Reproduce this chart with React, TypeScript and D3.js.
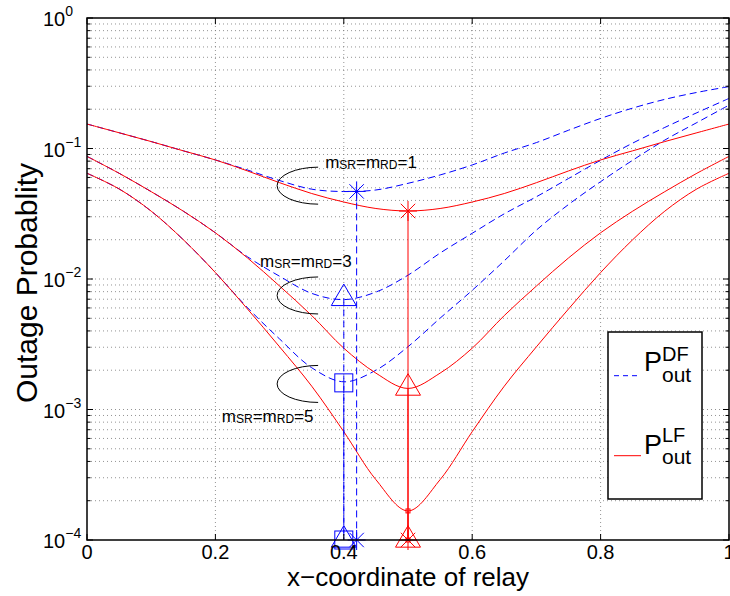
import React from 'react';
import * as d3 from 'd3';

// Relay position along the source–destination line (normalised)
const relayX = [0, 0.05, 0.1, 0.15, 0.2, 0.25, 0.3, 0.35, 0.4, 0.45, 0.5, 0.55, 0.6, 0.65, 0.7, 0.75, 0.8, 0.85, 0.9, 0.95, 1];

// Linear-forwarding outage probability, m_SR = m_RD = 1, 3, 5
const lfM1 = [0.154, 0.132, 0.113, 0.096, 0.0817, 0.0673, 0.0547, 0.0452, 0.0389, 0.0347, 0.0332, 0.0347, 0.0389, 0.0452, 0.0547, 0.0673, 0.0817, 0.096, 0.113, 0.132, 0.154];
const lfM3 = [0.087, 0.0646, 0.0467, 0.0331, 0.0226, 0.0145, 0.00883, 0.00525, 0.00295, 0.0019, 0.00145, 0.0019, 0.00295, 0.00525, 0.00883, 0.0145, 0.0226, 0.0331, 0.0467, 0.0646, 0.087];
const lfM5 = [0.0646, 0.049, 0.0331, 0.02, 0.0112, 0.00589, 0.00302, 0.00151, 0.000676, 0.00029, 0.000167, 0.00029, 0.000676, 0.00151, 0.00302, 0.00589, 0.0112, 0.02, 0.0331, 0.049, 0.0646];

// Decode-and-forward outage probability, m_SR = m_RD = 1, 3, 5
const dfM1 = [0.154, 0.132, 0.113, 0.096, 0.0817, 0.0684, 0.0568, 0.0488, 0.0468, 0.0481, 0.0541, 0.0627, 0.0748, 0.0923, 0.111, 0.138, 0.17, 0.204, 0.238, 0.269, 0.298];
const dfM3 = [0.087, 0.0646, 0.0467, 0.0331, 0.0226, 0.0148, 0.0105, 0.00776, 0.00695, 0.00794, 0.0107, 0.0158, 0.0224, 0.0316, 0.0427, 0.0589, 0.0813, 0.11, 0.145, 0.188, 0.242];
const dfM5 = [0.0646, 0.049, 0.0331, 0.02, 0.0112, 0.00603, 0.00347, 0.00209, 0.00163, 0.002, 0.00303, 0.00501, 0.00819, 0.0138, 0.0237, 0.0372, 0.0557, 0.0813, 0.116, 0.158, 0.215];

// Optimal relay positions and the minimum outage there (m = 1, 3, 5)
const dfOptX = [0.42, 0.4, 0.4];
const dfOptP = [0.0469, 0.0071, 0.0016];
const lfOptX = [0.5, 0.5, 0.5];
const lfOptP = [0.0332, 0.00146, 0.000167];
const optMarkers = ['star', 'triangle', 'square'];
const lfMarkerSize = [20, 25, 4];
const dfMarkerSize = [20, 25, 18];

// Bracket annotations: centre of each bracket and its label
const fadingOrders = ['1', '3', '5'];
const bracketX = [0.36, 0.36, 0.36];
const bracketP = [0.0519, 0.00748, 0.00157];
const labelX = [0.371, 0.2695, 0.21];
const labelP = [0.0705, 0.0124, 0.000807];

const xTicks = [0, 0.2, 0.4, 0.6, 0.8, 1];
const xTickLabels = ['0', '0.2', '0.4', '0.6', '0.8', '1'];
const yDecades = [-4, -3, -2, -1, 0];

const W = 730;
const H = 596;
const M = { left: 87, right: 729, top: 18, bottom: 540 };
const FONT = "'Liberation Sans', Arial, Helvetica, sans-serif";
const BLUE = '#0000ff';
const RED = '#ff0000';
const DASH = '7,4';

function Marker({ kind, cx, cy, size, color }: { kind: string; cx: number; cy: number; size: number; color: string }) {
  if (kind === 'star') {
    const r = size / 2;
    const k = r * 0.72;
    const d = `M${cx - r * 0.9},${cy}L${cx + r * 0.9},${cy}M${cx},${cy - r}L${cx},${cy + r}M${cx - k},${cy - k}L${cx + k},${cy + k}M${cx - k},${cy + k}L${cx + k},${cy - k}`;
    return <path d={d} stroke={color} strokeWidth={1} fill="none" />;
  }
  if (kind === 'triangle') {
    const h = size * 0.86;
    const d = `M${cx},${cy - (2 * h) / 3}L${cx + size / 2},${cy + h / 3}L${cx - size / 2},${cy + h / 3}Z`;
    return <path d={d} stroke={color} strokeWidth={1} fill="none" />;
  }
  return <rect x={cx - size / 2} y={cy - size / 2} width={size} height={size} stroke={color} strokeWidth={1} fill="none" />;
}

export default function App() {
  const x = d3.scaleLinear().domain([0, 1]).range([M.left, M.right]);
  const y = d3.scaleLog().domain([1e-4, 1]).range([M.bottom, M.top]);
  const line = d3
    .line<number>()
    .x((_, i) => x(relayX[i]))
    .y((d) => y(d))
    .curve(d3.curveCatmullRom.alpha(0.5));

  const majors = yDecades.map((e) => Math.pow(10, e));
  const minors: number[] = [];
  yDecades.slice(0, -1).forEach((e) => {
    for (let k = 2; k <= 9; k++) minors.push(k * Math.pow(10, e));
  });
  const yFloor = 1e-4;

  const lfSeries = [lfM1, lfM3, lfM5];
  const dfSeries = [dfM1, dfM3, dfM5];

  return (
    <svg width={W} height={H} style={{ position: 'absolute', left: 0, top: 0, background: '#fff' }} fontFamily={FONT}>
      <rect x={0} y={0} width={W} height={H} fill="#fff" />

      {/* dotted grid */}
      <g stroke="#777" strokeWidth={0.8} strokeDasharray="1,3">
        {xTicks.slice(1, -1).map((t) => (
          <line key={`gx${t}`} x1={x(t)} x2={x(t)} y1={M.top} y2={M.bottom} />
        ))}
        {[...majors.slice(1, -1), ...minors].map((v) => (
          <line key={`gy${v}`} x1={M.left} x2={M.right} y1={y(v)} y2={y(v)} />
        ))}
      </g>

      {/* outage curves */}
      <g fill="none" strokeWidth={1}>
        {dfSeries.map((s, i) => (
          <path key={`df${i}`} d={line(s) || ''} stroke={BLUE} strokeDasharray={DASH} />
        ))}
        {lfSeries.map((s, i) => (
          <path key={`lf${i}`} d={line(s) || ''} stroke={RED} />
        ))}
      </g>

      {/* drop lines from each minimum to the floor */}
      <g fill="none" strokeWidth={1}>
        {dfOptX.map((xv, i) => (
          <line key={`dv${i}`} x1={x(xv)} x2={x(xv)} y1={y(dfOptP[i])} y2={y(yFloor)} stroke={BLUE} strokeDasharray={DASH} />
        ))}
        {lfOptX.map((xv, i) => (
          <line key={`lv${i}`} x1={x(xv)} x2={x(xv)} y1={y(lfOptP[i])} y2={y(yFloor)} stroke={RED} />
        ))}
      </g>

      {/* markers at the minima and on the floor */}
      {dfOptX.map((xv, i) => (
        <g key={`dm${i}`}>
          <Marker kind={optMarkers[i]} cx={x(xv)} cy={y(dfOptP[i])} size={dfMarkerSize[i]} color={BLUE} />
          <Marker kind={optMarkers[i]} cx={x(xv)} cy={y(yFloor)} size={dfMarkerSize[i]} color={BLUE} />
        </g>
      ))}
      {lfOptX.map((xv, i) => (
        <g key={`lm${i}`}>
          <Marker kind={optMarkers[i]} cx={x(xv)} cy={y(lfOptP[i])} size={lfMarkerSize[i]} color={RED} />
          <Marker kind={optMarkers[i]} cx={x(xv)} cy={y(yFloor)} size={lfMarkerSize[i]} color={RED} />
        </g>
      ))}

      {/* brackets and fading-order labels */}
      {fadingOrders.map((m, i) => {
        const cx = x(bracketX[i]);
        const cy = y(bracketP[i]);
        const rx = 41;
        const ry = 18.5;
        return (
          <g key={`ann${i}`}>
            <path d={`M${cx},${cy - ry}A${rx},${ry} 0 0 0 ${cx},${cy + ry}`} fill="none" stroke="#000" strokeWidth={1} />
            <text x={x(labelX[i])} y={y(labelP[i])} fontSize={17} fill="#000">
              m<tspan fontSize={12} dy={1}>SR</tspan>
              <tspan dy={-1}>=m</tspan>
              <tspan fontSize={12} dy={1}>RD</tspan>
              <tspan dy={-1}>={m}</tspan>
            </text>
          </g>
        );
      })}

      {/* axes box with inward ticks */}
      <g stroke="#000" fill="none">
        <rect x={M.left} y={M.top} width={M.right - M.left} height={M.bottom - M.top} strokeWidth={1.5} />
        {xTicks.map((t) => (
          <g key={`xt${t}`} strokeWidth={1}>
            <line x1={x(t)} x2={x(t)} y1={M.bottom} y2={M.bottom - 6} />
            <line x1={x(t)} x2={x(t)} y1={M.top} y2={M.top + 6} />
          </g>
        ))}
        {majors.map((v) => (
          <g key={`yt${v}`} strokeWidth={1}>
            <line x1={M.left} x2={M.left + 6} y1={y(v)} y2={y(v)} />
            <line x1={M.right} x2={M.right - 6} y1={y(v)} y2={y(v)} />
          </g>
        ))}
        {minors.map((v) => (
          <g key={`ym${v}`} strokeWidth={1}>
            <line x1={M.left} x2={M.left + 3.5} y1={y(v)} y2={y(v)} />
            <line x1={M.right} x2={M.right - 3.5} y1={y(v)} y2={y(v)} />
          </g>
        ))}
      </g>

      {/* tick labels */}
      <g fontSize={20} fill="#000">
        {xTicks.map((t, i) => (
          <text key={`xl${t}`} x={x(t)} y={M.bottom + 19} textAnchor="middle">
            {xTickLabels[i]}
          </text>
        ))}
        {yDecades.map((e) => (
          <text key={`yl${e}`} x={43} y={y(Math.pow(10, e)) + 8} textAnchor="start">
            10
            <tspan fontSize={14} dy={-10}>
              {e === 0 ? '0' : `\u2212${-e}`}
            </tspan>
          </text>
        ))}
      </g>

      {/* axis titles */}
      <text x={(M.left + M.right) / 2} y={586} textAnchor="middle" fontSize={26} fill="#000">
        x{'\u2212'}coordinate of relay
      </text>
      <text transform={`translate(37,283) rotate(-90)`} textAnchor="middle" fontSize={30} fill="#000">
        Outage Probablity
      </text>

      {/* legend */}
      <g>
        <rect x={608} y={332} width={94} height={167} fill="#fff" stroke="#000" strokeWidth={1.5} />
        <line x1={614} x2={641} y1={375.7} y2={375.7} stroke={BLUE} strokeDasharray="5,4" />
        <line x1={614} x2={641} y1={455.7} y2={455.7} stroke={RED} />
        <text x={644} y={371} fontSize={27} fill="#000">P</text>
        <text x={662} y={361} fontSize={20} fill="#000">DF</text>
        <text x={662} y={382} fontSize={21} fill="#000">out</text>
        <text x={644} y={454} fontSize={27} fill="#000">P</text>
        <text x={662} y={442} fontSize={20} fill="#000">LF</text>
        <text x={662} y={464} fontSize={21} fill="#000">out</text>
      </g>
    </svg>
  );
}
